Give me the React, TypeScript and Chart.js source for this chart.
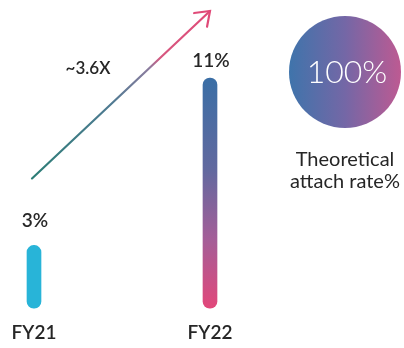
import React, { useEffect, useRef } from 'react';
import { Chart, registerables } from 'chart.js';

Chart.register(...registerables);

// ---- data ----
const categories = ['FY21', 'FY22'];
const attachRates = [3, 11];
const rateLabels = ['3%', '11%'];
const growthLabel = '~3.6X';
const arrowStartValue = 6.2; // on the value scale, at FY21
const arrowEndValue = 14.2; // on the value scale, at FY22
const theoreticalLabel = '100%';
const theoreticalCaption = ['Theoretical', 'attach rate%'];

// ---- style ----
const FONT = 'Lato, "Open Sans", sans-serif';
const TEXT = '#262626';
const labelGaps = [18, 11];

const overlay = {
  id: 'overlay',
  afterDatasetsDraw(chart: any) {
    const { ctx, scales } = chart;
    const xs = scales.x;
    const ys = scales.y;
    ctx.save();

    // value labels above bars
    ctx.fillStyle = TEXT;
    ctx.textAlign = 'center';
    ctx.textBaseline = 'alphabetic';
    ctx.font = `600 19px ${FONT}`;
    attachRates.forEach((v, i) => {
      const x = xs.getPixelForValue(i);
      const top = ys.getPixelForValue(v);
      ctx.fillText(rateLabels[i], x + 1, top - labelGaps[i]);
    });

    // growth arrow
    const x0 = xs.getPixelForValue(0) - 2;
    const y0 = ys.getPixelForValue(arrowStartValue);
    const x1 = xs.getPixelForValue(1);
    const y1 = ys.getPixelForValue(arrowEndValue);
    const g = ctx.createLinearGradient(x0, y0, x1, y1);
    g.addColorStop(0, '#2c7d76');
    g.addColorStop(0.45, '#4f7a92');
    g.addColorStop(0.66, '#8c7c9e');
    g.addColorStop(0.72, '#d6577f');
    g.addColorStop(1, '#e04a78');
    ctx.strokeStyle = g;
    ctx.lineWidth = 2.2;
    ctx.lineCap = 'round';
    ctx.beginPath();
    ctx.moveTo(x0, y0);
    ctx.lineTo(x1, y1);
    ctx.stroke();
    const ang = Math.atan2(y0 - y1, x0 - x1);
    const head = 16;
    const spread = 0.63;
    ctx.strokeStyle = '#e04a78';
    ctx.beginPath();
    ctx.moveTo(x1 + head * Math.cos(ang - spread), y1 + head * Math.sin(ang - spread));
    ctx.lineTo(x1, y1);
    ctx.lineTo(x1 + head * Math.cos(ang + spread), y1 + head * Math.sin(ang + spread));
    ctx.stroke();

    // growth label
    ctx.fillStyle = TEXT;
    ctx.font = `600 17px ${FONT}`;
    ctx.fillText(growthLabel, 88, 74);

    // theoretical circle
    const cx = chart.chartArea.right + 135;
    const cy = 72;
    const r = 56;
    const cg = ctx.createLinearGradient(cx - r, cy, cx + r, cy);
    cg.addColorStop(0, '#3f74ab');
    cg.addColorStop(0.5, '#7467a6');
    cg.addColorStop(1, '#bd5a92');
    ctx.fillStyle = cg;
    ctx.beginPath();
    ctx.arc(cx, cy, r, 0, Math.PI * 2);
    ctx.fill();
    ctx.fillStyle = '#ffffff';
    ctx.font = `300 32px ${FONT}`;
    ctx.fillText(theoreticalLabel, cx + 2, cy + 11);

    ctx.fillStyle = TEXT;
    ctx.font = `400 20px ${FONT}`;
    theoreticalCaption.forEach((line, i) => {
      ctx.fillText(line, cx, 166 + i * 22);
    });

    ctx.restore();
  },
};

export default function App() {
  const ref = useRef<HTMLCanvasElement | null>(null);

  useEffect(() => {
    if (!ref.current) return;
    const chart = new Chart(ref.current, {
      type: 'bar',
      data: {
        labels: categories,
        datasets: [
          {
            data: attachRates,
            barThickness: 14,
            borderRadius: 7,
            borderSkipped: false,
            clip: false as any,
            backgroundColor: (c: any) => {
              if (c.dataIndex === 0) return '#28b4d8';
              const ch = c.chart;
              const ys = ch.scales && ch.scales.y;
              if (!ys) return '#7a66a6';
              const top = ys.getPixelForValue(attachRates[1]);
              const bottom = ys.getPixelForValue(0);
              const gr = ch.ctx.createLinearGradient(0, top, 0, bottom);
              gr.addColorStop(0, '#3a6ea5');
              gr.addColorStop(0.4, '#62699f');
              gr.addColorStop(0.7, '#a45e98');
              gr.addColorStop(1, '#e2477a');
              return gr;
            },
          },
        ],
      },
      options: {
        responsive: false,
        animation: false,
        layout: { padding: { top: 78, left: 34, right: 194, bottom: 0 } },
        plugins: { legend: { display: false }, tooltip: { enabled: false } },
        scales: {
          x: {
            offset: false,
            grid: { display: false, drawTicks: false },
            border: { display: false },
            ticks: {
              color: TEXT,
              padding: 3,
              font: { family: FONT, size: 19, weight: '600' as any, lineHeight: 1.25 },
            },
          },
          y: { display: false, min: -0.48, max: 11 },
        },
      },
      plugins: [overlay],
    });
    return () => chart.destroy();
  }, []);

  return (
    <div style={{ position: 'absolute', left: 0, top: 0, width: 404, height: 348, background: '#fff' }}>
      <canvas ref={ref} width={404} height={348} />
    </div>
  );
}
